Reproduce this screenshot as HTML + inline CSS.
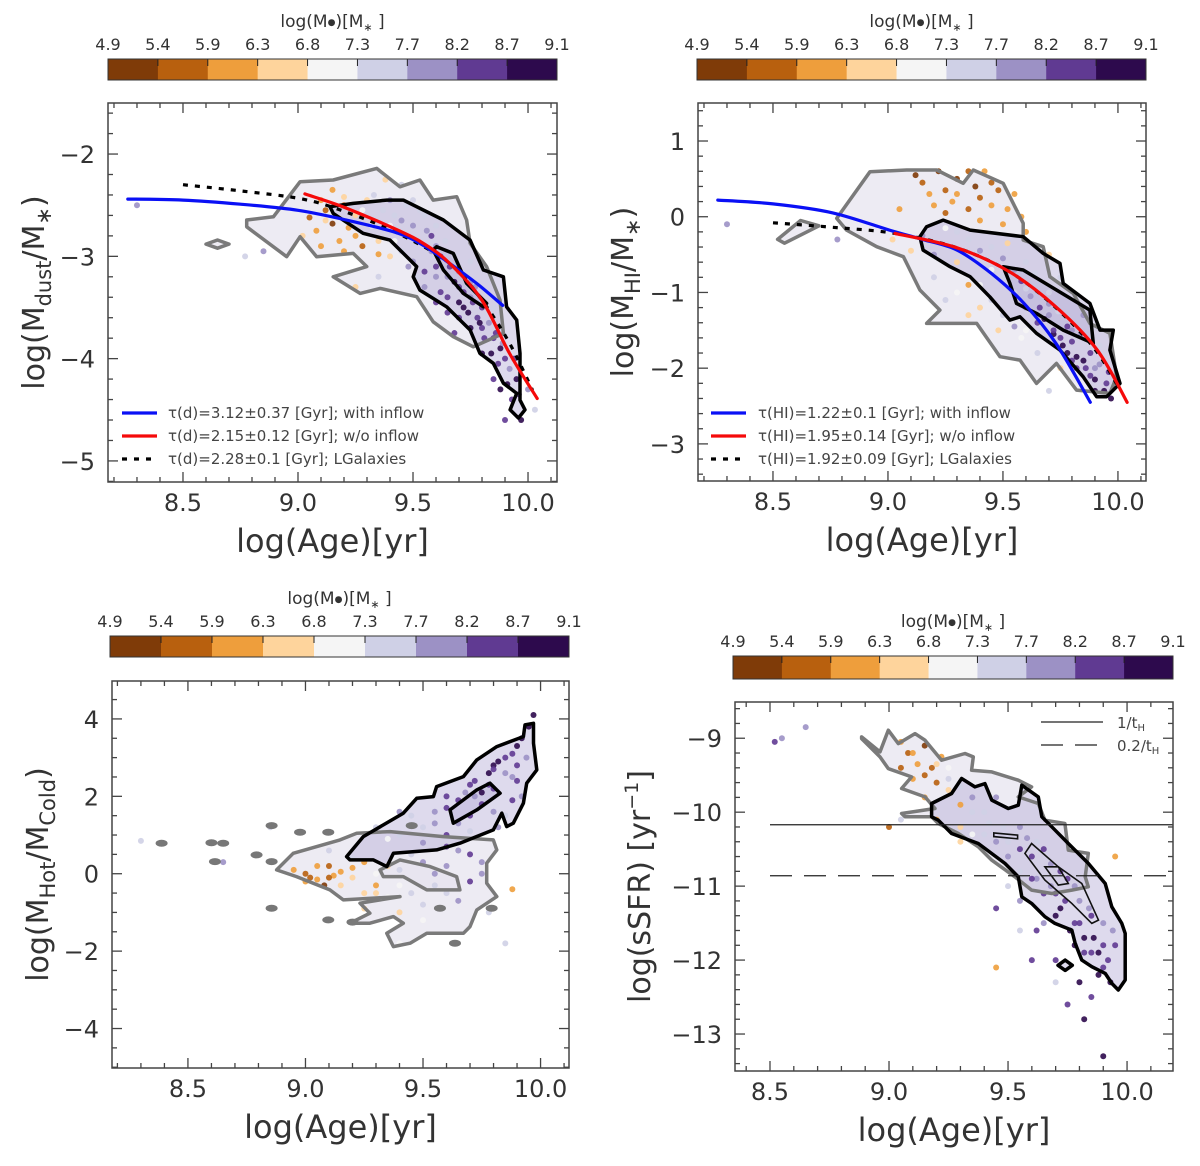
<!DOCTYPE html>
<html><head><meta charset="utf-8"><style>
body{margin:0;background:#fff;}
svg text{font-family:"DejaVu Sans","Liberation Sans",sans-serif;}
</style></head><body>
<svg id="fig" width="1200" height="1161" viewBox="0 0 1200 1161" xmlns="http://www.w3.org/2000/svg">
<rect x="0" y="0" width="1200" height="1161" fill="#fff"/>
</svg>
<script>
// ---------- shared colorbar ----------
const cbarTicks=['4.9','5.4','5.9','6.3','6.8','7.3','7.7','8.2','8.7','9.1'];
const cbarColors=['#7f3b08','#b8600e','#ee9e3c','#fed49c','#f5f5f5','#cfd0e6','#9c91c5','#603a92','#2d0a4d'];

// ---------- panel 1: dust ----------
const p1Points=[[9.05,-2.62,1],[9.08,-2.75,2],[9.12,-2.55,1],[9.15,-2.68,0],[9.1,-2.45,2],[9.2,-2.5,1],[9.22,-2.72,2],[9.25,-2.6,3],[9.18,-2.85,2],[9.28,-2.9,1],[9.3,-2.45,3],[9.35,-2.98,2],[9.32,-2.7,4],[9.02,-2.8,3],[9.4,-3.0,3],[9.38,-2.25,3],[9.45,-2.3,5],[9.5,-2.45,5],[9.55,-2.6,5],[9.45,-2.65,6],[9.52,-2.85,5],[9.58,-2.95,6],[9.6,-3.1,7],[9.65,-3.2,6],[9.62,-3.35,7],[9.7,-3.3,7],[9.72,-3.5,8],[9.75,-3.4,6],[9.78,-3.6,7],[9.8,-3.7,7],[9.82,-3.55,5],[9.85,-3.8,7],[9.88,-3.9,8],[9.9,-4.0,7],[9.92,-4.1,6],[9.95,-4.2,8],[9.93,-4.4,7],[9.97,-4.6,8],[9.9,-4.6,7],[9.68,-3.0,5],[9.48,-3.1,6],[9.42,-2.85,4],[9.75,-3.7,8],[9.7,-3.6,7],[9.85,-4.2,7],[9.6,-2.7,5],[8.3,-2.5,6],[8.85,-2.95,6],[8.77,-3.0,5],[9.25,-3.3,3],[9.65,-3.55,7],[9.8,-3.95,8],[10.0,-4.3,6],[10.03,-4.5,5],[9.55,-3.3,6],[9.35,-3.2,5],[9.6,-3.45,7],[9.75,-3.25,6],[9.68,-3.75,7],[9.88,-4.3,8],
[9.15,-2.35,2],[9.2,-2.42,3],[9.28,-2.55,4],[9.33,-2.4,5],[9.37,-2.55,5],[9.4,-2.45,6],[9.42,-2.6,5],[9.47,-2.5,5],[9.5,-2.7,6],[9.53,-2.55,5],[9.56,-2.75,6],[9.58,-2.8,7],[9.6,-2.9,6],[9.62,-3.0,7],[9.64,-2.85,5],[9.66,-3.1,7],[9.68,-3.25,8],[9.7,-3.15,6],[9.72,-3.35,7],[9.73,-3.2,5],[9.74,-3.55,8],[9.76,-3.45,7],[9.77,-3.3,6],[9.79,-3.65,8],[9.8,-3.5,7],[9.81,-3.8,7],[9.83,-3.65,6],[9.84,-3.95,8],[9.86,-3.75,7],[9.87,-4.05,7],[9.89,-3.85,6],[9.91,-4.25,8],[9.94,-4.0,7],[9.96,-4.35,7],[9.45,-2.95,5],[9.5,-3.05,6],[9.55,-3.15,7],[9.4,-2.7,4],[9.3,-2.6,5],[9.25,-2.8,2],[9.2,-2.95,2],[9.12,-2.65,3],[9.1,-2.9,2],[9.35,-2.85,3],[9.65,-3.4,7],[9.7,-3.45,8],[9.75,-3.05,5],[9.85,-3.5,5],[9.6,-3.2,6],[9.52,-3.2,5]];
const p1Blue=[[8.26,-2.44],[8.5,-2.45],[8.75,-2.49],[9.0,-2.55],[9.2,-2.64],[9.43,-2.77],[9.55,-2.9],[9.66,-3.07],[9.78,-3.27],[9.89,-3.48]];
const p1Red=[[9.03,-2.39],[9.2,-2.52],[9.43,-2.74],[9.55,-2.88],[9.66,-3.07],[9.8,-3.43],[9.92,-3.95],[10.04,-4.39]];
const p1Dot=[[8.5,-2.3],[8.75,-2.36],[9.02,-2.44],[9.2,-2.56],[9.43,-2.77],[9.66,-3.07],[9.8,-3.43],[9.92,-3.85],[10.02,-4.31]];
const p1Gray=[[[8.777,-2.645],[8.893,-2.613],[9.009,-2.27],[9.153,-2.254],[9.342,-2.14],[9.443,-2.32],[9.53,-2.254],[9.588,-2.45],[9.69,-2.417],[9.733,-2.645],[9.748,-2.873],[9.82,-3.1],[9.878,-3.427],[9.893,-3.753],[9.762,-3.884],[9.675,-3.786],[9.588,-3.64],[9.516,-3.395],[9.357,-3.313],[9.27,-3.362],[9.153,-3.2],[9.299,-3.1],[9.24,-2.971],[9.081,-3.004],[9.009,-2.808],[8.951,-3.004],[8.777,-2.711]],
 [[8.6,-2.88],[8.65,-2.84],[8.7,-2.88],[8.65,-2.92]]];
const p1Black=[[[9.139,-2.515],[9.24,-2.482],[9.386,-2.45],[9.458,-2.45],[9.632,-2.645],[9.748,-2.841],[9.806,-3.134],[9.893,-3.2],[9.907,-3.493],[9.951,-3.623],[9.965,-3.948],[9.965,-4.405],[9.987,-4.5],[9.958,-4.58],[9.922,-4.5],[9.951,-4.34],[9.893,-4.24],[9.849,-4.046],[9.791,-3.948],[9.748,-3.72],[9.646,-3.493],[9.53,-3.33],[9.501,-3.2],[9.516,-3.1],[9.4,-2.841],[9.283,-2.775],[9.153,-2.58]],
 [[9.603,-2.906],[9.675,-2.971],[9.733,-3.264],[9.82,-3.46],[9.806,-3.493],[9.719,-3.362],[9.632,-3.134],[9.588,-2.938]]];

// ---------- panel 2: HI ----------
const p2Points=[[9.12,0.55,0],[9.15,0.45,1],[9.18,0.3,2],[9.22,0.6,0],[9.2,0.15,2],[9.25,0.35,1],[9.3,0.5,0],[9.28,0.2,2],[9.35,0.1,1],[9.38,0.4,0],[9.4,0.25,1],[9.42,0.6,2],[9.45,0.15,2],[9.48,0.35,1],[9.5,-0.1,2],[9.55,0.3,2],[9.6,-0.2,2],[9.05,0.1,2],[9.02,-0.3,3],[9.1,-0.45,3],[9.3,-0.6,3],[9.35,-0.9,2],[9.4,-1.2,3],[9.48,-1.5,3],[9.5,-0.8,5],[9.55,-1.0,5],[9.6,-1.2,6],[9.65,-1.4,7],[9.7,-1.3,6],[9.75,-1.6,7],[9.78,-1.8,8],[9.8,-1.5,6],[9.82,-2.0,7],[9.85,-1.9,8],[9.88,-2.1,7],[9.9,-2.3,8],[9.95,-2.2,7],[9.92,-1.7,5],[9.97,-2.4,8],[9.7,-1.0,5],[9.6,-0.6,5],[9.45,-0.7,4],[9.2,-0.5,6],[9.25,-1.1,5],[8.3,-0.1,6],[8.78,-0.3,6],[9.65,-1.8,5],[9.75,-2.0,3],[9.85,-1.3,6],[9.58,-1.6,4],[9.7,-2.3,5],[9.8,-1.9,7],[9.9,-2.0,6],[9.72,-1.55,8],
[9.3,-0.2,5],[9.35,-0.3,5],[9.4,-0.45,6],[9.45,-0.4,5],[9.5,-0.55,6],[9.52,-0.35,3],[9.55,-0.7,6],[9.58,-0.85,7],[9.6,-0.95,5],[9.62,-1.05,6],[9.64,-0.75,5],[9.66,-1.2,7],[9.68,-1.35,8],[9.7,-1.15,6],[9.72,-1.5,7],[9.74,-1.25,5],[9.76,-1.7,8],[9.78,-1.45,7],[9.8,-1.65,7],[9.82,-1.85,8],[9.84,-1.55,6],[9.86,-2.0,7],[9.88,-1.8,7],[9.9,-2.15,8],[9.92,-1.95,6],[9.94,-2.3,8],[9.96,-2.05,7],[9.4,-0.9,4],[9.35,-1.3,3],[9.45,-1.1,5],[9.5,-1.3,5],[9.55,-1.45,6],[9.6,-1.5,4],[9.3,-1.0,4],[9.2,-0.8,5],[9.15,-0.25,6],[9.25,-0.15,4],[9.45,0.45,1],[9.52,0.1,2],[9.58,0.0,2],[9.35,0.6,1],[9.3,0.3,2],[9.25,0.05,1],[9.4,-0.05,2],[9.7,-0.5,3],[9.75,-0.8,5]];
const p2Blue=[[8.26,0.22],[8.5,0.17],[8.76,0.05],[9.01,-0.18],[9.15,-0.3],[9.3,-0.44],[9.45,-0.75],[9.59,-1.14],[9.73,-1.67],[9.88,-2.45]];
const p2Red=[[9.03,-0.22],[9.3,-0.41],[9.53,-0.73],[9.73,-1.19],[9.91,-1.76],[10.04,-2.45]];
const p2Dot=[[8.5,-0.08],[8.76,-0.14],[9.03,-0.22],[9.3,-0.41],[9.53,-0.73],[9.73,-1.2],[9.9,-1.75],[10.01,-2.29]];
const p2Gray=[[[8.777,-0.022],[8.922,0.595],[9.081,0.617],[9.212,0.617],[9.327,0.441],[9.371,0.617],[9.501,0.441],[9.588,-0.087],[9.588,-0.308],[9.675,-0.396],[9.704,-0.792],[9.806,-1.012],[9.878,-1.409],[9.965,-1.54],[9.994,-2.114],[9.965,-2.333],[9.82,-2.289],[9.733,-1.937],[9.646,-2.201],[9.574,-1.893],[9.487,-1.849],[9.386,-1.409],[9.168,-1.409],[9.226,-1.233],[9.139,-0.968],[9.067,-0.528],[8.951,-0.396],[8.82,-0.176]],
 [[8.55,-0.35],[8.7,-0.12],[8.62,-0.05],[8.52,-0.3]]];
const p2Black=[[[9.168,-0.132],[9.24,-0.044],[9.357,-0.176],[9.588,-0.264],[9.675,-0.484],[9.748,-0.616],[9.762,-0.88],[9.878,-1.144],[9.922,-1.497],[9.98,-1.497],[9.965,-1.761],[10.009,-2.201],[9.951,-2.377],[9.907,-2.377],[9.849,-2.114],[9.748,-1.761],[9.646,-1.54],[9.574,-1.321],[9.53,-1.365],[9.443,-1.057],[9.357,-0.792],[9.27,-0.66],[9.153,-0.44],[9.139,-0.264]],
 [[9.501,-0.66],[9.588,-0.704],[9.733,-0.968],[9.878,-1.233],[9.893,-1.673],[9.762,-1.497],[9.646,-1.277],[9.559,-1.144],[9.53,-0.88]]];

// ---------- panel 3: hot/cold ----------
const p3Points=[[8.95,0.1,2],[9.0,0.0,1],[9.05,-0.15,2],[9.1,0.2,1],[9.08,-0.3,0],[9.15,0.05,2],[9.2,-0.1,3],[9.25,0.3,2],[9.3,-0.5,3],[9.35,0.2,3],[9.4,-0.3,4],[9.45,0.5,5],[9.5,-0.8,5],[9.55,0.0,6],[9.6,-0.5,5],[9.65,0.6,6],[9.7,-0.2,7],[9.75,0.3,6],[9.78,-1.0,5],[9.5,1.2,5],[9.55,1.6,6],[9.6,2.0,7],[9.65,1.3,6],[9.7,2.3,7],[9.75,1.8,7],[9.78,2.6,8],[9.8,2.2,7],[9.85,3.0,7],[9.88,2.5,6],[9.9,3.3,8],[9.92,2.0,6],[9.95,3.8,8],[9.97,4.1,8],[9.85,1.5,5],[9.45,1.5,5],[9.35,0.9,4],[9.4,1.6,6],[9.3,1.2,5],[9.6,1.0,7],[9.7,1.5,7],[9.82,1.2,6],[9.9,2.8,7],[8.6,0.8,5],[8.3,0.85,5],[8.65,0.3,6],[9.85,-1.8,5],[9.88,-0.4,2],[9.4,-1.8,4],[9.25,-0.9,3],[9.1,0.6,5],[8.85,1.2,5],[9.02,-0.1,1],[9.12,-0.05,2],[9.8,2.8,8],[9.72,2.0,6],
[9.0,-0.2,2],[9.05,0.2,2],[9.1,-0.1,1],[9.15,-0.3,3],[9.2,0.15,2],[9.25,-0.5,3],[9.3,0.0,4],[9.35,-0.6,4],[9.4,0.1,5],[9.45,-0.5,5],[9.5,0.3,6],[9.55,-0.3,5],[9.6,0.2,6],[9.65,-0.7,6],[9.7,0.5,7],[9.75,0.0,6],[9.4,1.0,5],[9.5,0.8,6],[9.55,1.3,6],[9.6,1.7,7],[9.65,1.9,7],[9.68,2.1,6],[9.72,2.4,7],[9.75,2.1,8],[9.78,2.3,7],[9.8,2.7,7],[9.82,2.9,8],[9.85,2.6,6],[9.88,3.1,7],[9.9,2.4,7],[9.92,3.5,8],[9.94,3.0,6],[9.88,1.9,7],[9.8,1.6,6],[9.7,1.1,5],[9.6,0.7,7],[9.5,-1.2,4],[9.4,-1.0,3],[9.3,-0.3,2],[9.2,0.4,5]];
const p3Gray=[[[8.877,0.098],[8.948,0.529],[9.147,0.873],[9.218,1.046],[9.36,1.088],[9.586,0.959],[9.799,0.873],[9.814,0.615],[9.771,0.271],[9.771,-0.246],[9.814,-0.592],[9.729,-0.935],[9.7,-1.367],[9.672,-1.539],[9.516,-1.539],[9.445,-1.796],[9.374,-1.884],[9.346,-1.539],[9.416,-1.279],[9.374,-1.108],[9.274,-1.279],[9.189,-1.279],[9.274,-1.021],[9.232,-0.762],[9.402,-0.592],[9.161,-0.677],[9.104,-0.419],[9.033,-0.246],[8.962,-0.075]],
 [[9.317,0.098],[9.402,0.357],[9.53,0.183],[9.643,-0.075],[9.657,-0.419],[9.516,-0.419],[9.416,-0.075],[9.331,-0.075]]];
const p3Blobs=[[8.388,0.788],[8.65,0.788],[8.615,0.313],[8.856,1.243],[8.792,0.486],[8.856,0.313],[8.977,1.072],[9.097,1.072],[8.856,-0.892],[9.097,-1.194],[9.452,1.243],[9.636,-1.796],[9.572,-0.892],[9.792,-0.892],[9.2,-1.25],[8.6,0.8]];
const p3Black=[[[9.175,0.442],[9.246,0.959],[9.416,1.563],[9.473,1.95],[9.544,1.992],[9.558,2.251],[9.672,2.51],[9.729,2.941],[9.814,3.284],[9.927,3.543],[9.934,3.845],[9.97,3.888],[9.97,3.372],[9.984,2.682],[9.941,2.338],[9.927,1.822],[9.884,1.305],[9.856,1.217],[9.835,1.563],[9.799,1.132],[9.657,0.788],[9.558,0.615],[9.374,0.529],[9.346,0.183],[9.289,0.357],[9.189,0.357]],
 [[9.615,1.649],[9.729,2.166],[9.785,2.338],[9.828,2.08],[9.729,1.649],[9.629,1.305]]];

// ---------- panel 4: sSFR ----------
const p4Points=[[9.05,-9.05,2],[9.08,-9.2,1],[9.12,-9.35,2],[9.15,-9.1,0],[9.18,-9.4,1],[9.1,-9.55,2],[9.2,-9.6,1],[9.22,-9.25,2],[9.25,-9.7,3],[9.3,-9.9,2],[9.3,-10.2,3],[9.35,-10.0,5],[9.4,-10.3,5],[9.45,-9.8,6],[9.5,-10.4,5],[9.55,-10.2,6],[9.6,-10.6,7],[9.62,-10.9,6],[9.65,-10.5,7],[9.7,-11.1,7],[9.72,-11.3,8],[9.75,-10.9,7],[9.78,-11.5,7],[9.8,-11.2,6],[9.82,-11.7,8],[9.85,-11.4,7],[9.88,-11.9,8],[9.9,-12.1,7],[9.93,-12.3,8],[9.95,-11.8,7],[9.9,-11.5,6],[9.62,-11.6,7],[9.55,-11.6,5],[9.45,-11.3,7],[9.6,-12.0,7],[9.75,-12.6,7],[9.82,-12.8,8],[9.9,-13.3,8],[8.55,-9.0,6],[8.52,-9.05,7],[8.65,-8.85,6],[9.0,-10.2,1],[9.05,-10.1,5],[9.45,-12.1,2],[9.7,-12.3,5],[9.95,-10.6,2],[9.5,-10.8,4],[9.25,-9.4,4],[9.85,-11.9,7],[9.78,-11.8,8],[9.68,-11.0,6],
[9.1,-9.2,2],[9.15,-9.5,1],[9.2,-9.35,3],[9.25,-9.55,5],[9.3,-9.65,5],[9.35,-9.8,6],[9.35,-10.3,4],[9.4,-10.0,5],[9.42,-10.15,5],[9.45,-10.4,6],[9.48,-10.2,5],[9.5,-10.6,6],[9.55,-10.5,7],[9.55,-10.8,5],[9.58,-10.35,6],[9.6,-10.9,7],[9.62,-10.4,5],[9.65,-11.1,7],[9.68,-10.7,6],[9.7,-11.4,8],[9.72,-10.8,7],[9.74,-11.2,7],[9.76,-11.6,8],[9.78,-11.0,6],[9.8,-11.5,7],[9.82,-11.9,7],[9.84,-11.3,6],[9.86,-11.7,8],[9.88,-12.2,8],[9.9,-11.8,7],[9.92,-12.0,7],[9.94,-11.6,6],[9.65,-11.5,6],[9.55,-11.2,6],[9.5,-11.0,5],[9.3,-10.4,3],[9.2,-10.1,2],[9.15,-9.8,2],[9.05,-9.4,1],[9.7,-12.0,7],[9.8,-12.3,8],[9.85,-12.5,7]];
const p4Gray=[[[8.885,-8.982],[8.962,-9.185],[8.997,-8.892],[9.039,-9.072],[9.109,-8.937],[9.151,-9.027],[9.221,-9.297],[9.319,-9.207],[9.354,-9.253],[9.347,-9.432],[9.432,-9.455],[9.543,-9.568],[9.599,-9.658],[9.543,-9.793],[9.627,-9.883],[9.655,-10.108],[9.739,-10.153],[9.753,-10.514],[9.837,-10.558],[9.824,-10.874],[9.837,-11.009],[9.768,-11.054],[9.684,-11.099],[9.599,-11.054],[9.529,-10.874],[9.432,-10.649],[9.375,-10.468],[9.291,-10.288],[9.207,-10.153],[9.179,-10.063],[9.067,-10.063],[9.053,-10.018],[9.193,-9.95],[9.151,-9.793],[9.053,-9.68],[9.095,-9.523],[8.997,-9.41],[8.962,-9.253],[8.885,-9.005]]];
const p4Black=[[[9.179,-9.883],[9.263,-9.748],[9.305,-9.545],[9.361,-9.658],[9.403,-9.613],[9.432,-9.838],[9.501,-9.95],[9.543,-9.905],[9.558,-9.635],[9.627,-9.793],[9.642,-10.063],[9.684,-10.198],[9.753,-10.423],[9.837,-10.693],[9.908,-10.964],[9.936,-11.279],[9.978,-11.504],[9.992,-11.639],[9.992,-12.27],[9.963,-12.405],[9.936,-12.315],[9.908,-12.18],[9.852,-12.09],[9.81,-12.0],[9.782,-11.774],[9.768,-11.595],[9.697,-11.504],[9.655,-11.414],[9.599,-11.234],[9.558,-11.144],[9.543,-10.874],[9.487,-10.693],[9.375,-10.423],[9.263,-10.288],[9.207,-10.108],[9.179,-10.063]],
 [[9.74,-12.0],[9.77,-12.07],[9.74,-12.14],[9.71,-12.07]]];
const p4Thin=[[[9.571,-10.558],[9.599,-10.423],[9.711,-10.739],[9.81,-10.964],[9.88,-11.459],[9.852,-11.504],[9.768,-11.234],[9.655,-10.919]],
 [[9.655,-10.739],[9.711,-10.739],[9.753,-10.964],[9.711,-10.986]],
 [[9.44,-10.28],[9.54,-10.31],[9.54,-10.36],[9.44,-10.33]]];
const p4HLines=[-10.17,-10.86];

const NS='http://www.w3.org/2000/svg';
const fig=document.getElementById('fig');
function mk(tag,attrs,parent){const e=document.createElementNS(NS,tag);for(const k in attrs)e.setAttribute(k,attrs[k]);(parent||fig).appendChild(e);return e;}

function colorbar(x0,x1,y0,y1,labY,titleY){
  const g=mk('g',{});
  
  
  const w=(x1-x0)/cbarColors.length;
  cbarColors.forEach((c,i)=>{
    const r=mk('rect',{x:x0+i*w,y:y0,width:w+0.5,height:y1-y0,fill:c},g);
    
    
    if(i>0) mk('line',{x1:x0+i*w,x2:x0+i*w,y1:y0,y2:y0+7,stroke:'#222','stroke-width':1},g);
  });
  mk('rect',{x:x0,y:y0,width:x1-x0,height:y1-y0,fill:'none',stroke:'#333','stroke-width':1},g);
  cbarTicks.forEach((t,i)=>{
    const tx=mk('text',{x:x0+i*w,y:labY,'text-anchor':'middle','font-size':16,fill:'#333'},g);
    tx.textContent=t;
    
    
  });
  const tt=mk('text',{x:(x0+x1)/2,y:titleY,'text-anchor':'middle','font-size':17,fill:'#333'},g);
  tt.innerHTML='log(M<tspan font-size="9" dy="-2">●</tspan><tspan dy="2">)[M</tspan><tspan font-size="11" dy="4">∗</tspan><tspan dy="-4"> ]</tspan>';
  
  
}

function smoothPath(P){
  if(P.length<3) return 'M'+P.map(p=>p.join(',')).join(' L');
  let d='M'+P[0][0].toFixed(1)+','+P[0][1].toFixed(1);
  for(let i=0;i<P.length-1;i++){
    const p0=P[i-1]||P[i],p1=P[i],p2=P[i+1],p3=P[i+2]||P[i+1];
    const c1=[p1[0]+(p2[0]-p0[0])/6,p1[1]+(p2[1]-p0[1])/6];
    const c2=[p2[0]-(p3[0]-p1[0])/6,p2[1]-(p3[1]-p1[1])/6];
    d+=' C'+c1[0].toFixed(1)+','+c1[1].toFixed(1)+' '+c2[0].toFixed(1)+','+c2[1].toFixed(1)+' '+p2[0].toFixed(1)+','+p2[1].toFixed(1);
  }
  return d;
}

function panel(cfg){
  const g=mk('g',{});
  
  
  const X=v=>cfg.L+(v-cfg.xmin)/(cfg.xmax-cfg.xmin)*(cfg.R-cfg.L);
  const Y=v=>cfg.B-(v-cfg.ymin)/(cfg.ymax-cfg.ymin)*(cfg.B-cfg.T);
  const cid='clip'+cfg.name;
  const cp=mk('clipPath',{id:cid},g);mk('rect',{x:cfg.L,y:cfg.T,width:cfg.R-cfg.L,height:cfg.B-cfg.T},cp);
  const inner=mk('g',{'clip-path':'url(#'+cid+')'},g);
  const pts=arr=>arr.map(p=>X(p[0]).toFixed(1)+','+Y(p[1]).toFixed(1)).join(' ');
  (cfg.gray||[]).forEach(c=>{
    const e=mk('polygon',{points:pts(c),fill:'#e6e2ee',opacity:0.7,stroke:'none'},inner);
    
    
  });
  (cfg.black||[]).forEach(c=>{
    const e=mk('polygon',{points:pts(c),fill:'#b5aed6',opacity:0.45,stroke:'none'},inner);
    
    
  });
  cfg.points.forEach(p=>{
    const c=mk('circle',{cx:X(p[0]),cy:Y(p[1]),r:3,fill:cbarColors[p[2]],opacity:0.9},inner);
    
    
  });
  (cfg.blobs||[]).forEach(p=>{
    const e=mk('ellipse',{cx:X(p[0]),cy:Y(p[1]),rx:6,ry:3.5,fill:'#777'},inner);
    
    
  });
  (cfg.gray||[]).forEach(c=>{
    const e=mk('polygon',{points:pts(c),fill:'none',stroke:'#7a7a7a','stroke-width':3.5,'stroke-linejoin':'round'},inner);
    
    
  });
  (cfg.black||[]).forEach(c=>{
    const e=mk('polygon',{points:pts(c),fill:'none',stroke:'#000','stroke-width':3.5,'stroke-linejoin':'round'},inner);
    
    
  });
  (cfg.thin||[]).forEach(c=>{
    const e=mk('polygon',{points:pts(c),fill:'none',stroke:'#111','stroke-width':1.6},inner);
    
    
  });
  (cfg.curves||[]).forEach(cv=>{
    const P=cv.d.map(p=>[X(p[0]),Y(p[1])]);
    const e=mk('path',{d:smoothPath(P),fill:'none',stroke:cv.color,'stroke-width':3.2,'stroke-dasharray':cv.dash||'none','stroke-linecap':cv.dash?'butt':'round'},inner);
    
    
  });
  (cfg.hlines||[]).forEach((v,i)=>{
    const e=mk('line',{x1:X(8.5),x2:cfg.R,y1:Y(v),y2:Y(v),stroke:'#222','stroke-width':1.3,'stroke-dasharray':i?'22,12':'none'},inner);
    
    
  });
  mk('rect',{x:cfg.L,y:cfg.T,width:cfg.R-cfg.L,height:cfg.B-cfg.T,fill:'none',stroke:'#444','stroke-width':1.5},g);
  const tk=mk('g',{stroke:'#444','stroke-width':1.3},g);
  for(let v=Math.ceil(cfg.xmin/cfg.xminor-1e-9)*cfg.xminor;v<=cfg.xmax+1e-9;v+=cfg.xminor){
    const maj=Math.abs(v/cfg.xmajor-Math.round(v/cfg.xmajor))<1e-6;const len=maj?10:5;const x=X(v);
    mk('line',{x1:x,x2:x,y1:cfg.B,y2:cfg.B-len},tk);mk('line',{x1:x,x2:x,y1:cfg.T,y2:cfg.T+len},tk);
  }
  for(let v=Math.ceil(cfg.ymin/cfg.yminor-1e-9)*cfg.yminor;v<=cfg.ymax+1e-9;v+=cfg.yminor){
    const maj=Math.abs(v/cfg.ymajor-Math.round(v/cfg.ymajor))<1e-6;const len=maj?10:5;const y=Y(v);
    mk('line',{x1:cfg.L,x2:cfg.L+len,y1:y,y2:y},tk);mk('line',{x1:cfg.R,x2:cfg.R-len,y1:y,y2:y},tk);
  }
  cfg.xticks.forEach(v=>{
    const t=mk('text',{x:X(v),y:cfg.B+29,'text-anchor':'middle','font-size':24,fill:'#333'},g);
    t.textContent=v.toFixed(1);
    
    
  });
  cfg.yticks.forEach(v=>{
    const t=mk('text',{x:cfg.L-13,y:Y(v)+9,'text-anchor':'end','font-size':24,fill:'#333'},g);
    t.textContent=(v<0?'\u2212'+Math.abs(v):String(v));
    
    
  });
  const xt=mk('text',{x:(cfg.L+cfg.R)/2,y:cfg.B+70,'text-anchor':'middle','font-size':32,fill:'#333'},g);
  xt.textContent='log(Age)[yr]';
  
  
  const cy=(cfg.T+cfg.B)/2;
  const yt=mk('text',{x:cfg.ylx,y:cy,'text-anchor':'middle','font-size':30,fill:'#333',transform:'rotate(-90 '+cfg.ylx+' '+cy+')'},g);
  yt.innerHTML=cfg.ylabel;
  
  
  return {X,Y,g};
}

colorbar(108,557,59,80,50,27);
colorbar(697,1146,59,80,50,27);
colorbar(110,569,636,657,627,604);
colorbar(733,1173,656,679,647,627);

panel({name:'dust-panel',L:108,R:557,T:103,B:482,xmin:8.174,xmax:10.126,ymin:-5.206,ymax:-1.501,xmajor:0.5,xminor:0.1,ymajor:1,yminor:0.2,
  xticks:[8.5,9.0,9.5,10.0],yticks:[-2,-3,-4,-5],ylx:44,
  ylabel:'log(M<tspan font-size="21" dy="7">dust</tspan><tspan dy="-7">/M</tspan><tspan font-size="21" dy="7">∗</tspan><tspan dy="-7">)</tspan>',
  points:p1Points,gray:p1Gray,black:p1Black,
  curves:[{d:p1Dot,color:'#000',dash:'5,7',name:'lgalaxies-fit'},{d:p1Blue,color:'#0a10f5',name:'with-inflow-fit'},{d:p1Red,color:'#f50a0a',name:'without-inflow-fit'}]});
panel({name:'hi-panel',L:698,R:1146,T:103,B:481,xmin:8.174,xmax:10.122,ymin:-3.49,ymax:1.502,xmajor:0.5,xminor:0.1,ymajor:1,yminor:0.2,
  xticks:[8.5,9.0,9.5,10.0],yticks:[1,0,-1,-2,-3],ylx:633,
  ylabel:'log(M<tspan font-size="21" dy="7">HI</tspan><tspan dy="-7">/M</tspan><tspan font-size="21" dy="7">∗</tspan><tspan dy="-7">)</tspan>',
  points:p2Points,gray:p2Gray,black:p2Black,
  curves:[{d:p2Dot,color:'#000',dash:'5,7',name:'lgalaxies-fit'},{d:p2Blue,color:'#0a10f5',name:'with-inflow-fit'},{d:p2Red,color:'#f50a0a',name:'without-inflow-fit'}]});
panel({name:'hot-cold-panel',L:112,R:569,T:681,B:1068,xmin:8.177,xmax:10.121,ymin:-5.02,ymax:4.98,xmajor:0.5,xminor:0.1,ymajor:2,yminor:0.5,
  xticks:[8.5,9.0,9.5,10.0],yticks:[4,2,0,-2,-4],ylx:48,
  ylabel:'log(M<tspan font-size="21" dy="7">Hot</tspan><tspan dy="-7">/M</tspan><tspan font-size="21" dy="7">Cold</tspan><tspan dy="-7">)</tspan>',
  points:p3Points,blobs:p3Blobs,gray:p3Gray,black:p3Black});
panel({name:'ssfr-panel',L:735,R:1173,T:702,B:1071,xmin:8.353,xmax:10.193,ymin:-13.5,ymax:-8.51,xmajor:0.5,xminor:0.1,ymajor:1,yminor:0.2,
  xticks:[8.5,9.0,9.5,10.0],yticks:[-9,-10,-11,-12,-13],ylx:650,
  ylabel:'log(sSFR) [yr<tspan font-size="19" dy="-12">−1</tspan><tspan dy="12">]</tspan>',
  points:p4Points,gray:p4Gray,black:p4Black,thin:p4Thin,hlines:p4HLines});
</script>
<svg style="position:absolute;left:0;top:0" width="1200" height="1161">
<g font-family="DejaVu Sans, sans-serif" font-size="15" fill="#444">
<line x1="122" x2="157" y1="413" y2="413" stroke="#0a10f5" stroke-width="3.2"/>
<text x="168" y="418">τ(d)=3.12±0.37 [Gyr]; with inflow</text>
<line x1="122" x2="157" y1="436" y2="436" stroke="#f50a0a" stroke-width="3.2"/>
<text x="168" y="441">τ(d)=2.15±0.12 [Gyr]; w/o inflow</text>
<line x1="122" x2="157" y1="459" y2="459" stroke="#000" stroke-width="3.2" stroke-dasharray="5,7"/>
<text x="168" y="464">τ(d)=2.28±0.1 [Gyr]; LGalaxies</text>
</g>
<g font-family="DejaVu Sans, sans-serif" font-size="15" fill="#444">
<line x1="711" x2="746" y1="413" y2="413" stroke="#0a10f5" stroke-width="3.2"/>
<text x="758" y="418">τ(HI)=1.22±0.1 [Gyr]; with inflow</text>
<line x1="711" x2="746" y1="436" y2="436" stroke="#f50a0a" stroke-width="3.2"/>
<text x="758" y="441">τ(HI)=1.95±0.14 [Gyr]; w/o inflow</text>
<line x1="711" x2="746" y1="459" y2="459" stroke="#000" stroke-width="3.2" stroke-dasharray="5,7"/>
<text x="758" y="464">τ(HI)=1.92±0.09 [Gyr]; LGalaxies</text>
</g>
<g font-family="DejaVu Sans, sans-serif" font-size="15" fill="#444">
<line x1="1041" x2="1103" y1="722" y2="722" stroke="#222" stroke-width="1.3"/>
<text x="1117" y="728">1/t<tspan font-size="10" dy="3">H</tspan></text>
<line x1="1041" x2="1103" y1="745" y2="745" stroke="#222" stroke-width="1.3" stroke-dasharray="22,12"/>
<text x="1117" y="751">0.2/t<tspan font-size="10" dy="3">H</tspan></text>
</g>
</svg>
</body></html>
